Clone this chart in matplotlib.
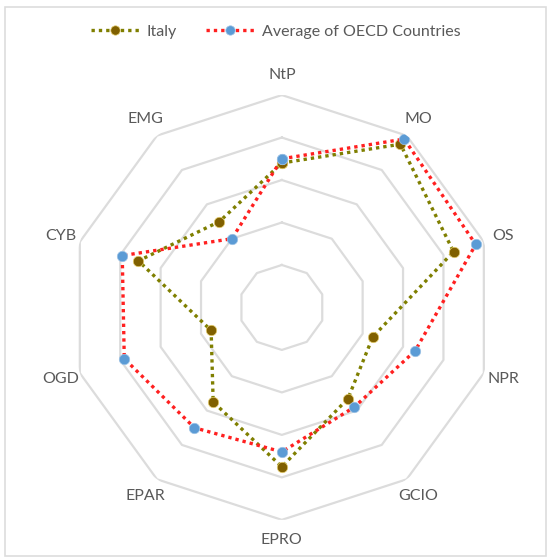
import matplotlib.pyplot as plt
import numpy as np
from matplotlib.patches import Rectangle

categories = ["NtP", "MO", "OS", "NPR", "GCIO", "EPRO", "EPAR", "OGD", "CYB", "EMG"]
italy = [0.68, 0.95, 0.85, 0.45, 0.53, 0.75, 0.55, 0.35, 0.71, 0.50]
oecd = [0.70, 0.98, 0.96, 0.66, 0.58, 0.68, 0.70, 0.78, 0.79, 0.40]
rings = [0.2, 0.4, 0.6, 0.8, 1.0]

plt.rcParams["font.family"] = ["Lato", "DejaVu Sans"]

n = len(categories)
angles = np.linspace(0, 2 * np.pi, n, endpoint=False)
closed = np.append(angles, angles[0])

fig = plt.figure(figsize=(5.51, 5.58), dpi=100)
ax = fig.add_axes([0.126, 0.068, 0.771, 0.762], projection="polar")
ax.set_theta_zero_location("N")
ax.set_theta_direction(-1)
ax.set_ylim(0, 1)
ax.grid(False)
ax.spines["polar"].set_visible(False)
ax.set_xticks([])
ax.set_yticks([])
ax.patch.set_alpha(0)

# decagon gridlines
for r in rings:
    ax.plot(closed, [r] * (n + 1), color="#dcdcdc", lw=1.6, zorder=1)

for ang, lab in zip(angles, categories):
    ax.text(ang, 1.095, lab, ha="center", va="center", fontsize=11.5,
            color="#595959", clip_on=False)

ax.plot(closed, italy + italy[:1], color="#7f7f00", ls=(0, (1, 1.2)), lw=2.4,
        marker="o", ms=7.5, mfc="#806000", mec="#e6cf70", mew=0.5,
        label="Italy", zorder=3)
ax.plot(closed, oecd + oecd[:1], color="#ff2020", ls=(0, (1, 1.2)), lw=2.4,
        marker="o", ms=7.5, mfc="#5b9bd5", mec="#9dc3e6", mew=0.5,
        label="Average of OECD Countries", zorder=4)

fig.legend(loc="center", bbox_to_anchor=(0.5, 0.943), ncol=2, frameon=False,
           fontsize=11.5, labelcolor="#595959", handlelength=3.0, markerscale=0.9,
           columnspacing=1.8, handletextpad=0.5)

fig.patches.append(Rectangle((0.009, 0.004), 0.982, 0.984, transform=fig.transFigure,
                             fill=False, edgecolor="#dddddd", lw=1.2))

plt.savefig("out.png", dpi=100)
